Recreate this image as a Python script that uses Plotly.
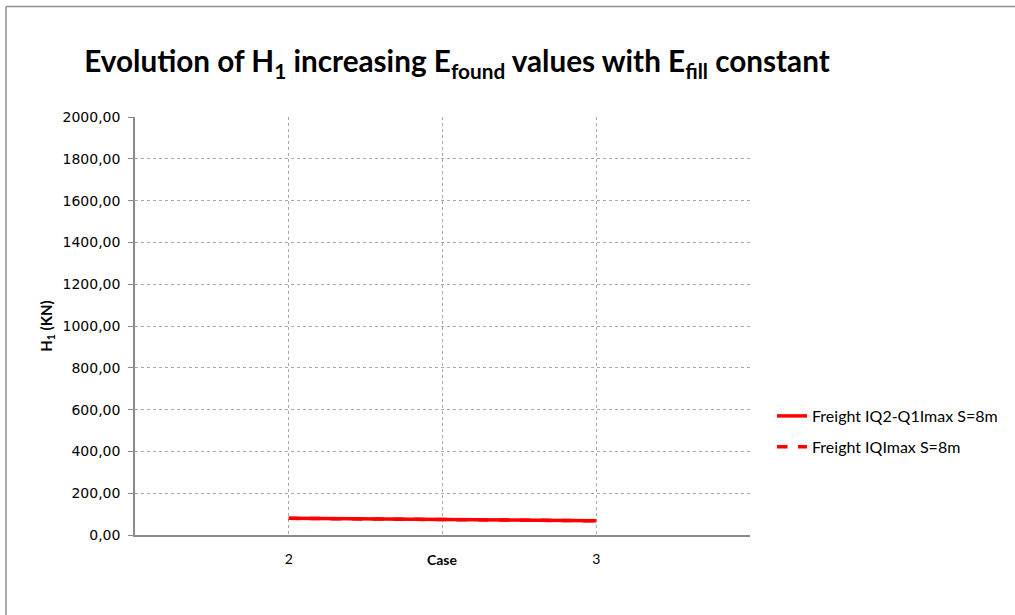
import plotly.graph_objects as go

cases = [2, 3]
freight_iq2_q1 = [80, 68]
freight_iqmax = [80, 68]
series_names = ["Freight IQ2-Q1Imax S=8m", "Freight IQImax S=8m"]
x_tick_vals = [2, 3]
x_tick_text = ["2", "3"]

W, H = 1015, 615
L, R, T, B = 135, 750, 117, 535

fig = go.Figure()
fig.add_trace(go.Scatter(x=cases, y=freight_iq2_q1, mode="lines", name=series_names[0],
                         line=dict(color="#ff0000", width=3.5), legendgroup="a"))
fig.add_trace(go.Scatter(x=cases, y=freight_iqmax, mode="lines", name=series_names[1],
                         line=dict(color="#ff0000", width=3.5, dash="dash"), legendgroup="b"))

grid_col = "#a8a8a8"
fig.update_layout(
    width=W, height=H,
    margin=dict(l=L, r=W - R, t=T, b=H - B, pad=0),
    paper_bgcolor="white", plot_bgcolor="white",
    font=dict(family="Lato, Open Sans, sans-serif", color="#000000", size=13),
    title=dict(text="Evolution of H<sub>1</sub> increasing E<sub>found</sub> values with E<sub>fill</sub> constant",
               x=457 / W, xanchor="center", y=1 - 62 / H, yanchor="middle",
               font=dict(family="Lato, sans-serif", size=29.7, color="#000000", weight="bold")),
    separators=",.",
    showlegend=True,
    legend=dict(x=(772 - L) / (R - L), xanchor="left", y=(B - 399) / (B - T), yanchor="top",
                bgcolor="rgba(0,0,0,0)", font=dict(size=16, family="Lato, sans-serif"),
                tracegroupgap=7, traceorder="grouped"),
)

fig.update_xaxes(range=[1.5, 3.5], tickvals=x_tick_vals, ticktext=x_tick_text,
                 showgrid=True, gridcolor=grid_col, griddash="3px,3px", gridwidth=1,
                 minor=dict(dtick=0.5, tick0=1.5, showgrid=True, gridcolor=grid_col, griddash="3px,3px", ticks=""),
                 showline=True, linecolor="#8a8a8a", linewidth=1.5, ticks="", zeroline=False,
                 ticklabelstandoff=10, tickfont=dict(size=14))
fig.update_yaxes(range=[0, 2001], tickvals=list(range(0, 2001, 200)), tickformat=".2f",
                 showgrid=True, gridcolor=grid_col, griddash="3px,3px", gridwidth=1,
                 showline=True, linecolor="#8a8a8a", linewidth=1.5, ticks="outside", ticklen=5,
                 tickcolor="#8a8a8a", zeroline=False, ticklabelstandoff=5,
                 title=dict(text="<b>H<sub>1</sub> (KN)</b>", standoff=6, font=dict(size=15)),
                 tickfont=dict(size=14, family="DejaVu Sans"))

fig.add_annotation(text="<b>Case</b>", xref="paper", yref="paper",
                   x=0.5, y=(B - 559) / (B - T), xanchor="center", yanchor="middle",
                   showarrow=False, font=dict(size=14))

# chart frame (top and left edges)
fig.add_shape(type="line", xref="paper", yref="paper",
              x0=(6 - L) / (R - L), x1=(W - L) / (R - L), y0=(B - 6.5) / (B - T), y1=(B - 6.5) / (B - T),
              line=dict(color="#909090", width=1.5))
fig.add_shape(type="line", xref="paper", yref="paper",
              x0=(6 - L) / (R - L), x1=(6 - L) / (R - L), y0=(B - 6.5) / (B - T), y1=(B - H) / (B - T),
              line=dict(color="#909090", width=1.5))

fig.write_html("out.html", config={"displayModeBar": False},
               post_script="document.body.style.margin='0px';")
